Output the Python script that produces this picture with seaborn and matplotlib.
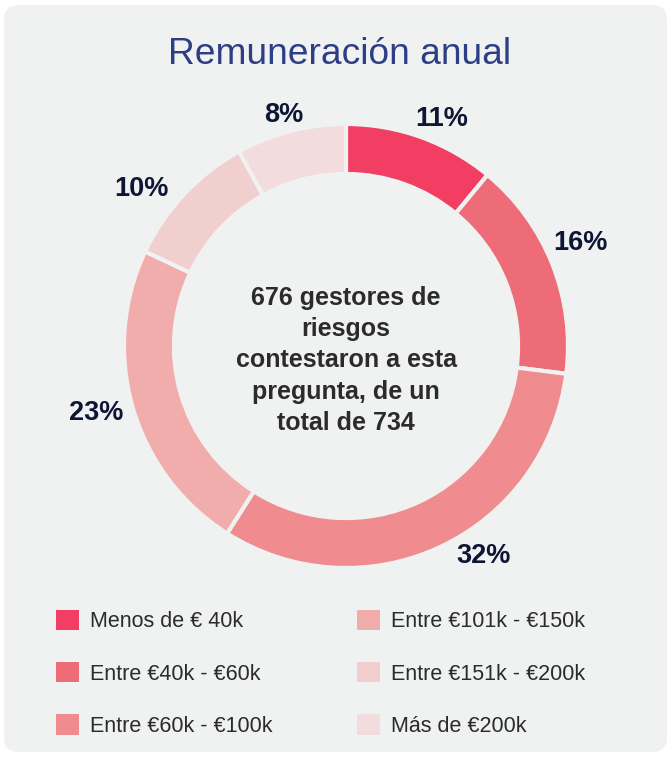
import matplotlib
matplotlib.use("Agg")
import matplotlib.pyplot as plt
import seaborn as sns
import numpy as np
from matplotlib.patches import FancyBboxPatch, Patch

# Data
categories = ["Menos de € 40k", "Entre €40k - €60k", "Entre €60k - €100k",
              "Entre €101k - €150k", "Entre €151k - €200k", "Más de €200k"]
shares = [11, 16, 32, 23, 10, 8]
colors = ["#F23E63", "#EE6B78", "#F08C8F", "#F0ADAC", "#F2CFCF", "#F2DCDD"]
center_text = "676 gestores de\nriesgos\ncontestaron a esta\npregunta, de un\ntotal de 734"
title = "Remuneración anual"

# label placement tweaks (angle shift in degrees, radius) - layout only
label_shift = [-2.8, 2.8, 8.5, -1.8, 5.2, 0.4]
label_radius = [1.12, 1.16, 1.12, 1.16, 1.17, 1.09]

BG = "#F0F2F1"

sns.set_theme(style="white")
plt.rcParams["font.family"] = ["Liberation Sans", "DejaVu Sans"]

W, H = 671, 757
fig = plt.figure(figsize=(W / 100, H / 100), dpi=100)
fig.patch.set_facecolor("white")

# rounded panel behind everything
panel = FancyBboxPatch((4 / W, 5 / H), 663 / W, 747 / H,
                       boxstyle="round,pad=0,rounding_size=0.022",
                       transform=fig.transFigure, facecolor=BG, edgecolor="none",
                       mutation_aspect=W / H, zorder=-5)
fig.patches.append(panel)

# donut axes: center (346, 346) px, radius 222 px
cx, cy, R = 346, 346, 222
lim = 1.3
half = lim * R
ax = fig.add_axes([(cx - half) / W, (H - cy - half) / H, 2 * half / W, 2 * half / H])
ax.set_zorder(2)
ax.set_facecolor("none")
ax.axis("off")

wedges, _ = ax.pie(shares, colors=colors, startangle=90, counterclock=False,
                   radius=1.0, wedgeprops=dict(width=0.225, edgecolor=BG, linewidth=3))
ax.set_xlim(-lim, lim)
ax.set_ylim(-lim, lim)
ax.set_aspect("equal")

# percentage labels outside the ring
total = sum(shares)
start = 90.0
for s, shift, r in zip(shares, label_shift, label_radius):
    mid = np.deg2rad(start - s / total * 360 / 2 + shift)
    ax.text(r * np.cos(mid), r * np.sin(mid) - 0.013, f"{s}%", ha="center", va="center",
            fontsize=19.5, fontweight="bold", color="#0F1535")
    start -= s / total * 360

ax.text(0, -0.065, center_text, ha="center", va="center", fontsize=18,
        fontweight="bold", color="#2B2B2B", linespacing=1.38)

fig.text(340 / W, 1 - 54 / H, title, ha="center", va="center", fontsize=26.7,
         color="#2D3E85")

handles = [Patch(facecolor=c, edgecolor="none") for c in colors]
fig.legend(handles, categories, ncol=2, loc="upper left",
           bbox_to_anchor=(56 / W, 1 - 610 / H), frameon=False,
           borderaxespad=0, borderpad=0,
           fontsize=15.5, handlelength=1.07, handleheight=1.07,
           handletextpad=0.5, columnspacing=3.95, labelspacing=1.38,
           labelcolor="#2B2B2B")

fig.savefig("out.png", dpi=100, facecolor=fig.get_facecolor())
